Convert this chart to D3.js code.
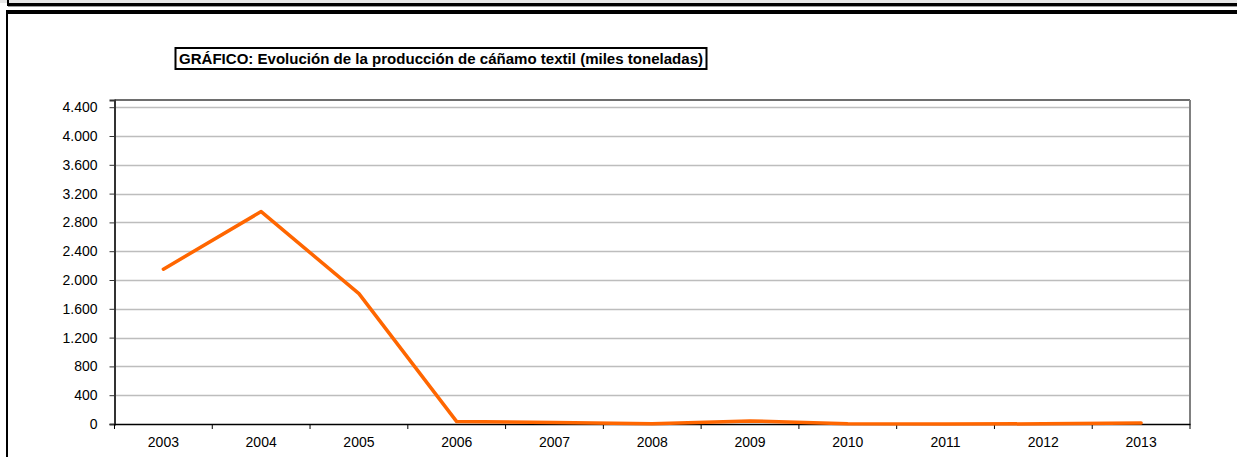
<!DOCTYPE html>
<html><head><meta charset="utf-8">
<script src="https://cdn.jsdelivr.net/npm/d3@7"></script>
<style>
body{margin:0;background:#fff;}
svg{display:block;font-family:"Liberation Sans",Arial,sans-serif;}
</style></head>
<body>
<svg id="c" width="1237" height="457"></svg>
<script>
const years = ["2003","2004","2005","2006","2007","2008","2009","2010","2011","2012","2013"];
const production = [2150, 2950, 1810, 33, 22, 2, 43, 3, 1, 2, 15];
const yTicks = [0,400,800,1200,1600,2000,2400,2800,3200,3600,4000,4400];
const title = "GRÁFICO: Evolución de la producción de cáñamo textil (miles toneladas)";

const svg = d3.select("#c");
// page decorations
svg.append("rect").attr("x",0).attr("y",0).attr("width",1237).attr("height",3).attr("fill","#e6e6e6");
svg.append("line").attr("x1",8).attr("x2",1237).attr("y1",4.5).attr("y2",4.5).attr("stroke","#000").attr("stroke-width",3);
svg.append("line").attr("x1",8).attr("x2",8).attr("y1",0).attr("y2",6).attr("stroke","#000").attr("stroke-width",2);
svg.append("line").attr("x1",8).attr("x2",1237).attr("y1",6.5).attr("y2",6.5).attr("stroke","#999").attr("stroke-width",1);
svg.append("line").attr("x1",6).attr("x2",1237).attr("y1",12).attr("y2",12).attr("stroke","#000").attr("stroke-width",4);
svg.append("line").attr("x1",7).attr("x2",7).attr("y1",10).attr("y2",457).attr("stroke","#000").attr("stroke-width",2);

const L=114.5, R=1190, T=100, B=424;
const x = d3.scaleBand().domain(years).range([L,R]).padding(0);
const y = d3.scaleLinear().domain([0,4500]).range([B,T]);
const FONT = "Liberation Sans, Arial, sans-serif";

// gridlines
svg.append("g").selectAll("line").data(yTicks.filter(d=>d>0)).join("line")
  .attr("x1",L).attr("x2",R).attr("y1",d=>Math.round(y(d))+0.5).attr("y2",d=>Math.round(y(d))+0.5)
  .attr("stroke","#bdbdbd").attr("stroke-width",1.5);

// frame top and right
svg.append("line").attr("x1",L).attr("x2",R).attr("y1",T).attr("y2",T).attr("stroke","#6e6e6e").attr("stroke-width",2);
svg.append("line").attr("x1",R).attr("x2",R).attr("y1",T).attr("y2",B).attr("stroke","#808080").attr("stroke-width",2);

// y axis
const yAxis = svg.append("g").attr("transform",`translate(${L},0)`)
  .call(d3.axisLeft(y).tickValues(yTicks).tickSize(5).tickPadding(12)
    .tickFormat(d=>d3.format(",")(d).replace(/,/g,".")));
yAxis.attr("font-size",14).attr("font-family",FONT);
yAxis.select(".domain").attr("stroke","#333").attr("stroke-width",2);
yAxis.selectAll(".tick line").attr("stroke","#333");
yAxis.selectAll("text").attr("fill","#000");

// x axis
const xAxis = svg.append("g").attr("transform",`translate(0,${B})`)
  .call(d3.axisBottom(x).tickSize(0).tickPadding(13));
xAxis.attr("font-size",14).attr("font-family",FONT);
xAxis.select(".domain").attr("stroke","#000").attr("stroke-width",1.5);
xAxis.selectAll("text").attr("fill","#000");
// category boundary ticks
const bounds = years.map(d=>x(d)).concat([R]);
svg.append("g").selectAll("line").data(bounds).join("line")
  .attr("x1",d=>d).attr("x2",d=>d).attr("y1",B).attr("y2",B+5)
  .attr("stroke","#000").attr("stroke-width",1);

// line
const line = d3.line().x((d,i)=>x(years[i])+x.bandwidth()/2).y(d=>y(d));
svg.append("path").datum(production).attr("d",line)
  .attr("fill","none").attr("stroke","#ff6600").attr("stroke-width",3.5)
  .attr("stroke-linejoin","round").attr("stroke-linecap","round");

// title
const tg = svg.append("g");
tg.append("rect").attr("x",175.5).attr("y",48).attr("width",531).attr("height",21)
  .attr("fill","#fff").attr("stroke","#000").attr("stroke-width",2);
tg.append("text").attr("x",179).attr("y",64).attr("font-size",14.5).attr("font-weight","bold")
  .attr("font-family",FONT).attr("textLength",524).attr("lengthAdjust","spacingAndGlyphs")
  .attr("fill","#000").text(title);
</script>
</body></html>
